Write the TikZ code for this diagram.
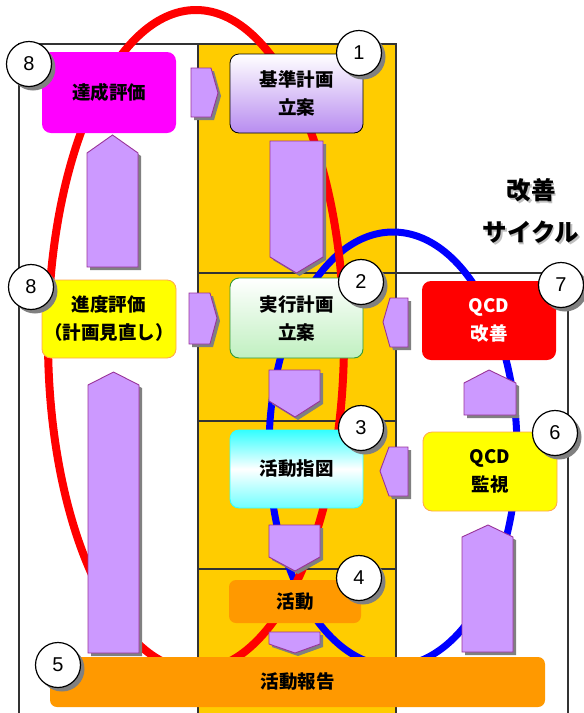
\documentclass[tikz,border=0pt]{standalone}
\usepackage{fontspec}
\setmainfont{Noto Sans CJK JP}
\newfontfamily\numfont{Liberation Sans}
\usetikzlibrary{shadows}

\definecolor{colbg}{HTML}{FFCC00}
\definecolor{orng}{HTML}{FF9900}
\definecolor{lav}{HTML}{CC99FF}
\definecolor{lavdark}{HTML}{993399}
\definecolor{mag}{HTML}{FF00FF}
\definecolor{yel}{HTML}{FFFF00}
\definecolor{shd}{HTML}{808080}
\definecolor{frmc}{HTML}{333333}
\definecolor{lavbot}{HTML}{B88CF0}
\definecolor{grnbot}{HTML}{C0F0C0}
\definecolor{grnb}{HTML}{339933}
\definecolor{cyn}{HTML}{33FFFF}
\definecolor{blu}{HTML}{0000FF}

\tikzset{
  frm/.style={draw=frmc, line width=1.2pt},
  box/.style={rounded corners=9pt, align=center, inner sep=0pt,
    font=\bfseries\fontsize{18.5}{28}\selectfont},
  numc/.style={circle, draw=black, fill=white, line width=1.2pt,
    minimum size=45pt, inner sep=0pt,
    font=\numfont\fontsize{20}{20}\selectfont,
    drop shadow={shadow xshift=4pt, shadow yshift=-4pt, fill=shd, opacity=1}},
  arrst/.style={fill=lav, draw=lavdark, line width=0.9pt, line join=miter},
  ttl/.style={font=\bfseries\fontsize{24.5}{42}\selectfont, align=center},
}
\newcommand\blockarr[1]{%
  \fill[shd, shift={(3,3)}] #1 -- cycle;
  \filldraw[arrst] #1 -- cycle;}

\begin{document}
\begin{tikzpicture}[x=1pt,y=-1pt]
\useasboundingbox (0,0) rectangle (584,713);
\fill[white] (0,0) rectangle (584,713);

% frames
\fill[colbg] (198,44) rectangle (396,713);
\draw[frm] (19,713) -- (19,44) -- (198,44);
\draw[frm] (198,713) -- (198,44) -- (396,44) -- (396,713);
\draw[frm] (198,273) -- (568,273) -- (568,713);
\draw[frm] (198,421) -- (396,421);
\draw[frm] (198,569) -- (396,569);

% cycles
\draw[blu, line width=7pt] (393,449) ellipse [x radius=124pt, y radius=217pt];
\draw[red, line width=8pt] (196,340) ellipse [x radius=148pt, y radius=330pt];

% title
\node[ttl, text=gray!50] at (532.5,212.5) {改善\\サイクル};
\node[ttl] (title) at (531,211) {改善\\サイクル};

% block arrows
\blockarr{(191,68) -- (211,68) -- (218,93) -- (211,117) -- (191,117)}
\blockarr{(189,293) -- (210,293) -- (217,318) -- (210,344) -- (189,344)}
\blockarr{(270,141) -- (323,141) -- (323,257) -- (296.5,273) -- (270,257)}
\blockarr{(87,153) -- (112.5,135) -- (138,153) -- (138,267) -- (87,267)}
\blockarr{(88,385) -- (113.5,372) -- (139,385) -- (139,653) -- (88,653)}
\blockarr{(269,370) -- (320,370) -- (320,401) -- (295,417) -- (269,401)}
\blockarr{(269,525) -- (320,525) -- (320,557) -- (295,571) -- (269,557)}
\blockarr{(269,632) -- (320,632) -- (320,644) -- (295,653) -- (269,644)}
\blockarr{(408,298) -- (390,298) -- (383,322) -- (390,347) -- (408,347)}
\blockarr{(408,447) -- (389,447) -- (380,471) -- (389,496) -- (408,496)}
\blockarr{(464,383) -- (489,370) -- (516,383) -- (516,415) -- (464,415)}
\blockarr{(462,537) -- (488,525) -- (513,537) -- (513,652) -- (462,652)}

% boxes
\node[box, fill=mag, minimum width=134pt, minimum height=81pt] (tassei) at (109,92.5) {達成評価};
\node[box, draw=black, line width=0.8pt, top color=white, bottom color=lavbot, minimum width=133pt, minimum height=79pt] (kijun) at (296.5,93.5) {基準計画\\立案};
\node[box, fill=yel, draw=orange!70, line width=0.8pt, minimum width=134pt, minimum height=78pt] (shindo) at (109,319) {進度評価\\（計画見直し）};
\node[box, draw=grnb, line width=0.9pt, top color=white, bottom color=grnbot, minimum width=133pt, minimum height=80pt] (jikko) at (296.5,318) {実行計画\\立案};
\node[box, fill=red, text=white, minimum width=134pt, minimum height=79pt] (kaizen) at (489,320.5) {QCD\\改善};
\node[box, draw=cyn, line width=0.9pt, top color=cyn, bottom color=cyn!70, middle color=white, minimum width=133pt, minimum height=78pt] (shizu) at (296.5,469) {活動指図};
\node[box, fill=yel, draw=orange!70, line width=0.8pt, minimum width=134pt, minimum height=79pt] (kanshi) at (490,471.5) {QCD\\監視};
\node[box, fill=orng, rounded corners=7pt, minimum width=132pt, minimum height=43pt] (katsudo) at (295,601.5) {活動};
\node[box, fill=orng, rounded corners=7pt, minimum width=495pt, minimum height=50pt] (hokoku) at (297.5,682) {活動報告};

% numbers
\node[numc] (n8a) at (29,64) {8};
\node[numc] (n1) at (359,53) {1};
\node[numc] (n8b) at (31,287) {8};
\node[numc] (n2) at (361,282) {2};
\node[numc] (n7) at (561,285) {7};
\node[numc] (n3) at (361,428) {3};
\node[numc] (n6) at (555,433) {6};
\node[numc] (n4) at (359,578) {4};
\node[numc] (n5) at (58,665) {5};
\end{tikzpicture}
\end{document}
